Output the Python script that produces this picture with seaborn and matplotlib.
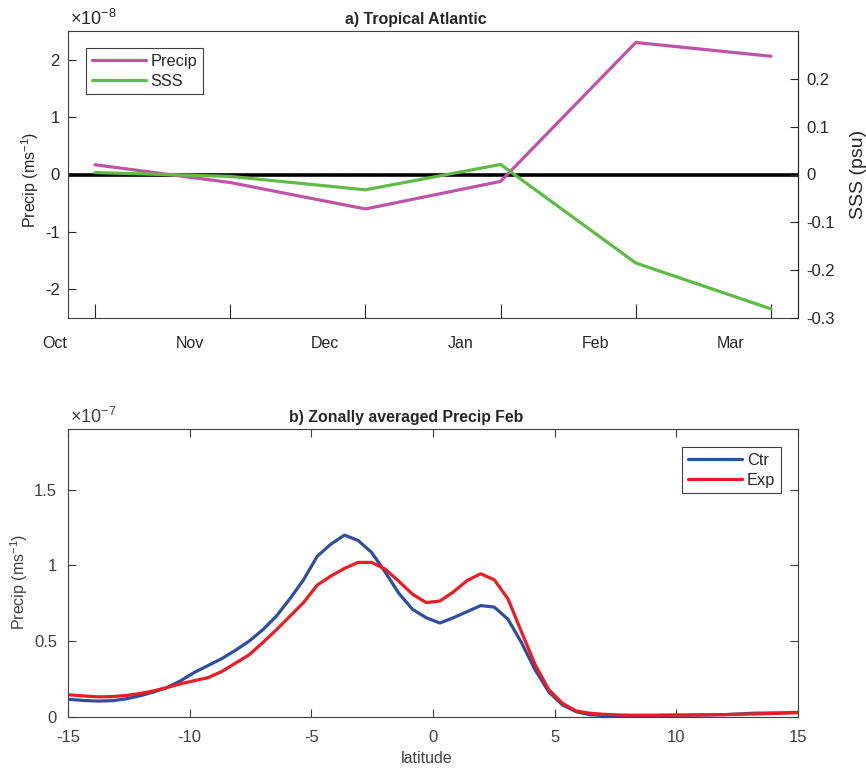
import numpy as np
import pandas as pd
import matplotlib
matplotlib.use("Agg")
import matplotlib.pyplot as plt
import seaborn as sns
from matplotlib.ticker import FuncFormatter, FixedLocator
from matplotlib.transforms import ScaledTranslation

# ---------------- data ----------------
months = ["Oct", "Nov", "Dec", "Jan", "Feb", "Mar"]
precip_anom = [0.17e-8, -0.14e-8, -0.60e-8, -0.12e-8, 2.30e-8, 2.06e-8]   # ms-1
sss_anom = [0.004, -0.004, -0.032, 0.021, -0.185, -0.281]                 # psu

lat = [-15.40, -14.84, -14.28, -13.72, -13.16, -12.60, -12.04, -11.48, -10.92, -10.36,
       -9.80, -9.24, -8.68, -8.12, -7.56, -7.00, -6.44, -5.88, -5.32, -4.76,
       -4.20, -3.64, -3.08, -2.52, -1.96, -1.40, -0.84, -0.28, 0.28, 0.84,
       1.40, 1.96, 2.52, 3.08, 3.64, 4.20, 4.76, 5.32, 5.88, 6.44,
       7.00, 7.56, 8.12, 8.68, 9.24, 9.80, 10.36, 10.92, 11.48, 12.04,
       12.60, 13.16, 13.72, 14.28, 14.84, 15.40]
ctr = [0.122, 0.115, 0.108, 0.105, 0.108, 0.120, 0.140, 0.165, 0.195, 0.240,
       0.295, 0.340, 0.385, 0.440, 0.500, 0.575, 0.665, 0.780, 0.905, 1.060,
       1.140, 1.200, 1.165, 1.085, 0.955, 0.815, 0.710, 0.655, 0.620, 0.655,
       0.695, 0.735, 0.725, 0.645, 0.490, 0.310, 0.165, 0.080, 0.035, 0.015,
       0.010, 0.008, 0.008, 0.009, 0.010, 0.011, 0.012, 0.013, 0.014, 0.016,
       0.020, 0.025, 0.026, 0.027, 0.030, 0.032]
exp = [0.150, 0.145, 0.138, 0.133, 0.135, 0.142, 0.155, 0.172, 0.195, 0.220,
       0.240, 0.260, 0.300, 0.355, 0.410, 0.490, 0.575, 0.665, 0.755, 0.870,
       0.930, 0.980, 1.020, 1.020, 0.975, 0.895, 0.810, 0.755, 0.765, 0.825,
       0.900, 0.945, 0.905, 0.780, 0.560, 0.345, 0.180, 0.090, 0.040, 0.025,
       0.018, 0.014, 0.012, 0.012, 0.012, 0.013, 0.013, 0.014, 0.015, 0.016,
       0.018, 0.020, 0.022, 0.025, 0.028, 0.030]   # x 1e-7 ms-1
ctr = [v * 1e-7 for v in ctr]
exp = [v * 1e-7 for v in exp]

# ---------------- style ----------------
sns.set_style("white")
plt.rcParams["font.family"] = ["Liberation Sans", "DejaVu Sans"]
plt.rcParams["mathtext.fontset"] = "custom"
plt.rcParams["mathtext.rm"] = "Liberation Sans"
plt.rcParams["mathtext.it"] = "Liberation Sans:italic"
plt.rcParams["mathtext.bf"] = "Liberation Sans:bold"
plt.rcParams["axes.unicode_minus"] = False

C_PRECIP = "#c053a8"
C_SSS = "#5fbb46"
C_CTR = "#2f4ea0"
C_EXP = "#ec1c24"
AX_COL = "#262626"
AX_COL2 = "#404040"

fig = plt.figure(figsize=(8.66, 7.68), dpi=100)
W, H = 866.0, 768.0

# ================= panel a =================
ax = fig.add_axes([68 / W, 1 - 318 / H, 730 / W, 287 / H])
ax2 = ax.twinx()

xi = list(range(len(months)))
df_a = pd.DataFrame({"x": xi, "Precip": precip_anom, "SSS": sss_anom})

ax.axhline(0, color="black", lw=2.6, zorder=1.5)
sns.lineplot(data=df_a, x="x", y="Precip", ax=ax, color=C_PRECIP, lw=2.3,
             sort=False, legend=False, zorder=2)
sns.lineplot(data=df_a, x="x", y="SSS", ax=ax2, color=C_SSS, lw=2.3,
             sort=False, legend=False, zorder=2)

ax.set_xlim(-0.2, 5.2)
ax.set_ylim(-2.5e-8, 2.5e-8)
ax2.set_ylim(-0.3, 0.3)

ax.xaxis.set_major_locator(FixedLocator(xi))
ax.set_xticklabels(months)
ax.yaxis.set_major_locator(FixedLocator([-2e-8, -1e-8, 0, 1e-8, 2e-8]))
ax.yaxis.set_major_formatter(FuncFormatter(lambda v, p: "%g" % round(v / 1e-8, 6)))
ax2.yaxis.set_major_locator(FixedLocator([-0.3, -0.2, -0.1, 0, 0.1, 0.2]))
ax2.yaxis.set_major_formatter(FuncFormatter(lambda v, p: "%g" % round(v, 6)))

ax.set_xlabel("")
ax.set_ylabel("Precip (ms$^{-1}$)", fontsize=11.5, color=AX_COL)
ax.yaxis.set_label_coords(-0.037, 0.481)
ax2.set_ylabel("SSS (psu)", fontsize=14, color=AX_COL)
ax2.yaxis.set_label_coords(1.071, 0.5)

ax.tick_params(axis="x", direction="in", length=10, width=0.8, pad=13,
               labelsize=11.5, colors=AX_COL, bottom=True, top=False)
ax.tick_params(axis="y", direction="in", length=5.5, width=0.8, pad=6,
               labelsize=12, colors=AX_COL, left=True, right=False)
ax2.tick_params(axis="y", direction="in", length=5.5, width=0.8, pad=6,
                labelsize=12, colors=AX_COL, right=True, left=False)

for s in ax.spines.values():
    s.set_color(AX_COL2)
    s.set_linewidth(0.8)
for k in ["top", "left", "bottom"]:
    ax2.spines[k].set_visible(False)
ax2.spines["right"].set_color(AX_COL)
ax2.spines["right"].set_linewidth(0.8)

# month labels sit to the left of their ticks (as in the original)
off = ScaledTranslation(-40 / 100.0, 0, fig.dpi_scale_trans)
for lbl in ax.get_xticklabels():
    lbl.set_transform(lbl.get_transform() + off)

ax.set_title("a) Tropical Atlantic", fontsize=11.4, fontweight="bold",
             color=AX_COL, x=0.477, pad=5)
ax.annotate(r"$\times$10$^{-8}$", xy=(0, 1), xycoords="axes fraction",
            xytext=(1.5, 4.5), textcoords="offset points", fontsize=13,
            color=AX_COL, ha="left", va="baseline")

handles = [ax.get_lines()[-1], ax2.get_lines()[-1]]
leg = ax2.legend(handles, ["Precip", "SSS"], loc="upper left",
                 bbox_to_anchor=(18 / 730, 1 - 17 / 287), borderaxespad=0,
                 fontsize=11.8, frameon=True, fancybox=False, framealpha=1,
                 edgecolor=AX_COL2, handlelength=3.3, handletextpad=0.3,
                 borderpad=0.35, labelspacing=0.3)
leg.get_frame().set_linewidth(0.8)

# ================= panel b =================
bx = fig.add_axes([68 / W, 1 - 717 / H, 730 / W, 288 / H])
df_b = pd.DataFrame({"lat": lat, "Ctr": ctr, "Exp": exp})
sns.lineplot(data=df_b, x="lat", y="Ctr", ax=bx, color=C_CTR, lw=2.3,
             sort=False, label="Ctr")
sns.lineplot(data=df_b, x="lat", y="Exp", ax=bx, color=C_EXP, lw=2.3,
             sort=False, label="Exp")

bx.set_xlim(-15, 15)
bx.set_ylim(0, 1.9e-7)
bx.xaxis.set_major_locator(FixedLocator([-15, -10, -5, 0, 5, 10, 15]))
bx.xaxis.set_major_formatter(FuncFormatter(lambda v, p: "%g" % v))
bx.yaxis.set_major_locator(FixedLocator([0, 0.5e-7, 1e-7, 1.5e-7]))
bx.yaxis.set_major_formatter(FuncFormatter(lambda v, p: "%g" % round(v / 1e-7, 6)))

bx.set_xlabel("latitude", fontsize=11.5, color=AX_COL2)
bx.xaxis.set_label_coords(0.492, -0.118)
bx.set_ylabel("Precip (ms$^{-1}$)", fontsize=11.5, color=AX_COL2)
bx.yaxis.set_label_coords(-0.052, 0.47)

bx.tick_params(axis="x", direction="in", length=5.5, width=0.8, pad=9.5,
               labelsize=12, colors=AX_COL2, bottom=True, top=True)
bx.tick_params(axis="y", direction="in", length=5.5, width=0.8, pad=8,
               labelsize=12, colors=AX_COL2, left=True, right=True)
for s in bx.spines.values():
    s.set_color(AX_COL2)
    s.set_linewidth(0.8)

bx.set_title("b) Zonally averaged Precip Feb", fontsize=11.4, fontweight="bold",
             color=AX_COL, x=0.463, pad=5)
bx.annotate(r"$\times$10$^{-7}$", xy=(0, 1), xycoords="axes fraction",
            xytext=(1.5, 4.5), textcoords="offset points", fontsize=13,
            color=AX_COL2, ha="left", va="baseline")

leg2 = bx.legend(loc="upper right", bbox_to_anchor=(1 - 17 / 730, 1 - 18 / 288),
                 borderaxespad=0, fontsize=11.8, frameon=True, fancybox=False,
                 framealpha=1, edgecolor=AX_COL2, handlelength=3.3,
                 handletextpad=0.3, borderpad=0.35, labelspacing=0.3)
leg2.get_frame().set_linewidth(0.8)

fig.savefig("out.png", dpi=100)
